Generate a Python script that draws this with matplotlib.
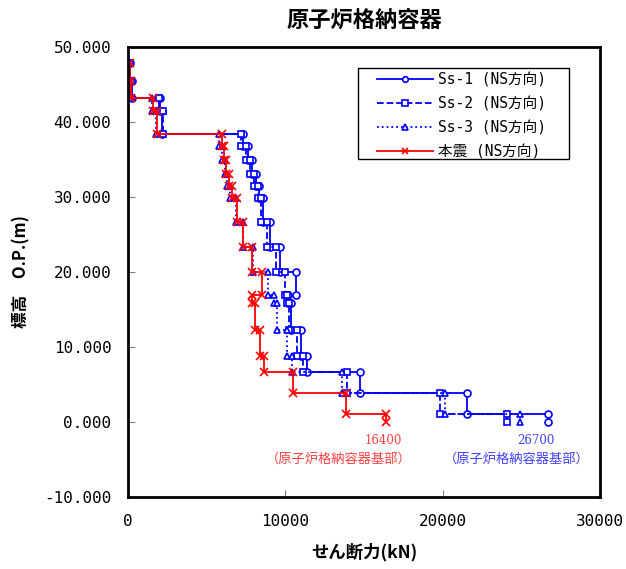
import numpy as np
import matplotlib.pyplot as plt
from matplotlib.patches import Rectangle

plt.rcParams['font.family'] = ['Noto Sans CJK JP', 'DejaVu Sans']
MONO = ['DejaVu Sans Mono', 'Noto Sans CJK JP']

# 標高 (O.P. m) - 要素境界
levels = [47.9, 45.5, 43.2, 41.5, 38.4, 36.8, 34.9, 33.1, 31.4, 29.9, 26.7,
          23.3, 20.0, 16.9, 15.9, 12.3, 8.8, 6.7, 3.9, 1.1, 0.0]

# 各要素のせん断力 (kN)
ss1 = [150, 250, 2050, 2150, 7300, 7650, 7900, 8150, 8350, 8600, 9050,
       9660, 10660, 10200, 10360, 11000, 11400, 14750, 21530, 26700]
ss2 = [120, 220, 1950, 2200, 7200, 7500, 7750, 8000, 8250, 8450, 8820,
       9400, 9950, 10100, 10250, 10750, 11100, 13900, 19830, 24070]
ss3 = [80, 150, 1550, 1800, 5800, 5950, 6150, 6300, 6500, 6850, 7300,
       7950, 8880, 9300, 9450, 10100, 10400, 13580, 20150, 24920]
honshin = [100, 180, 1600, 1860, 5950, 6100, 6250, 6420, 6600, 6950, 7300,
           7860, 8500, 7860, 8050, 8400, 8650, 10470, 13840, 16400]


def step_path(v):
    xs, ys = [], []
    for i, val in enumerate(v):
        xs += [val, val]
        ys += [levels[i], levels[i + 1]]
    return xs, ys


W, H = 626, 569
fig = plt.figure(figsize=(W / 100, H / 100), dpi=100)
ax = fig.add_axes([0.2045, 0.1265, 0.754, 0.791])

series = [
    (ss1, '-', 'o', '#0000ff', 'Ss-1 (NS方向)'),
    (ss2, '--', 's', '#0000ff', 'Ss-2 (NS方向)'),
    (ss3, ':', '^', '#0000ff', 'Ss-3 (NS方向)'),
    (honshin, '-', 'x', '#ff0000', '本震 (NS方向)'),
]
for v, ls, mk, col, lab in series:
    xs, ys = step_path(v)
    ax.plot(xs, ys, linestyle=ls, marker=mk, color=col, lw=1.3,
            ms=5 if mk != 'x' else 6, mfc='white' if mk != 'x' else col,
            mew=1.2, label=lab)

ax.set_xlim(0, 30000)
ax.set_ylim(-10, 50)
ax.set_xticks([0, 10000, 20000, 30000])
ax.set_yticks(np.arange(-10, 51, 10))
ax.set_yticklabels([f'{t:.3f}' for t in np.arange(-10, 51, 10)])
ax.tick_params(direction='in', length=5, color='gray', labelsize=11.5)
ax.tick_params(axis='y', pad=12)
ax.tick_params(axis='x', pad=12)
for lbl in ax.get_xticklabels() + ax.get_yticklabels():
    lbl.set_family(MONO)
for s in ax.spines.values():
    s.set_linewidth(2)

ax.set_title('原子炉格納容器', fontsize=16, fontweight='bold', pad=14)
ax.set_xlabel('せん断力(kN)', fontsize=12.5, fontweight='bold', labelpad=10)
ax.set_ylabel('標高　O.P.(m)', fontsize=12, fontweight='bold', labelpad=10)

# 基部の注記
ax.text(16200, -2.4, '16400', color='#ff4040', fontsize=8.5, ha='center',
        va='center', family=['DejaVu Serif'])
ax.text(13400, -4.9, '（原子炉格納容器基部）', color='#ff4040', fontsize=9.5,
        ha='center', va='center')
ax.text(25900, -2.4, '26700', color='#4040ff', fontsize=8.5, ha='center',
        va='center', family=['DejaVu Serif'])
ax.text(24700, -4.9, '（原子炉格納容器基部）', color='#4040ff', fontsize=9.5,
        ha='center', va='center')

# 凡例 (枠は別に描く)
leg = ax.legend(loc='upper left', bbox_to_anchor=(377 / W, 1 - 72 / H),
                bbox_transform=fig.transFigure,
                prop={'family': MONO, 'size': 10.5},
                handlelength=3.85, handletextpad=0.3, markerscale=0.8,
                frameon=False, borderpad=0, labelspacing=0.62,
                borderaxespad=0)
fig.patches.append(Rectangle((358 / W, 1 - 159 / H), 211 / W, 91 / H,
                             transform=fig.transFigure, fill=False,
                             edgecolor='black', lw=1, zorder=5))

fig.savefig('out.png', dpi=100)
